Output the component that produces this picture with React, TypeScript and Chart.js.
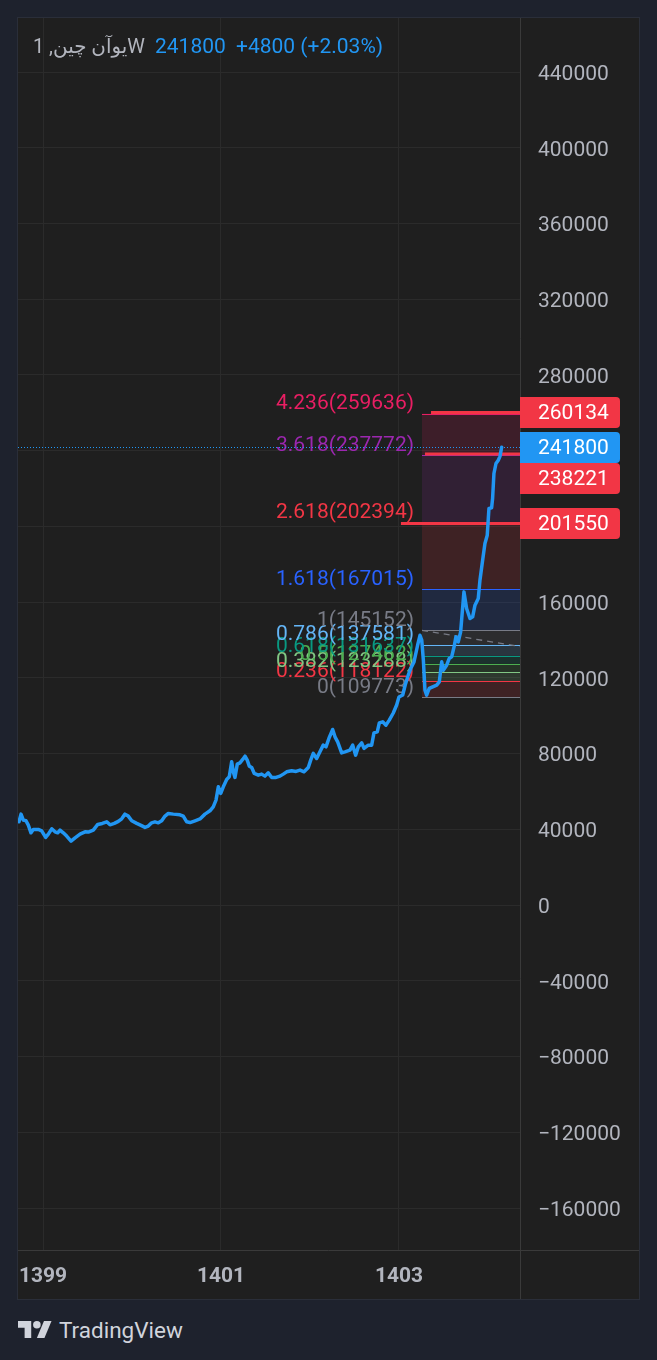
import React, { useEffect, useRef } from "react";
import { Chart, registerables } from "chart.js";

Chart.register(...registerables);

// ---- data (weekly closes, Persian calendar years as decimal x) ----
const years: number[] = [
  1398.730, 1398.753, 1398.779, 1398.809, 1398.835, 1398.865, 1398.891, 1398.947, 1398.985, 1399.030,
  1399.060, 1399.098, 1399.135, 1399.165, 1399.191, 1399.228, 1399.266, 1399.315, 1399.360, 1399.416,
  1399.472, 1399.509, 1399.565, 1399.615, 1399.666, 1399.716, 1399.753, 1399.801, 1399.846, 1399.884,
  1399.921, 1399.958, 1399.997, 1400.053, 1400.101, 1400.146, 1400.183, 1400.221, 1400.258, 1400.296,
  1400.334, 1400.371, 1400.408, 1400.464, 1400.539, 1400.576, 1400.615, 1400.652, 1400.708, 1400.764,
  1400.820, 1400.876, 1400.913, 1400.944, 1400.970, 1400.997, 1401.026, 1401.064, 1401.093, 1401.120,
  1401.138, 1401.157, 1401.183, 1401.213, 1401.244, 1401.270, 1401.295, 1401.318, 1401.345, 1401.374,
  1401.419, 1401.457, 1401.494, 1401.531, 1401.570, 1401.618, 1401.663, 1401.700, 1401.738, 1401.794,
  1401.843, 1401.888, 1401.933, 1401.981, 1402.008, 1402.037, 1402.075, 1402.112, 1402.149, 1402.180,
  1402.217, 1402.255, 1402.281, 1402.311, 1402.356, 1402.393, 1402.449, 1402.480, 1402.513, 1402.543,
  1402.581, 1402.607, 1402.655, 1402.693, 1402.719, 1402.756, 1402.779, 1402.817, 1402.854, 1402.891,
  1402.936, 1402.974, 1403.000, 1403.042, 1403.070, 1403.101, 1403.135, 1403.169, 1403.210, 1403.236,
  1403.256, 1403.274, 1403.292, 1403.311, 1403.340, 1403.379, 1403.424, 1403.453, 1403.480, 1403.498,
  1403.536, 1403.565, 1403.592, 1403.621, 1403.640, 1403.666, 1403.693, 1403.730, 1403.760, 1403.798,
  1403.828, 1403.854, 1403.891, 1403.910, 1403.940, 1403.966, 1403.992, 1404.011, 1404.041, 1404.052,
  1404.067, 1404.090, 1404.116, 1404.135, 1404.154,
];

const prices: number[] = [
  44000, 48050, 44880, 44520, 42240, 38180, 39970, 39970, 39230, 35750,
  37490, 40290, 38710, 38180, 39600, 38180, 36440, 33800, 35540, 37490,
  38710, 38550, 39600, 42610, 43140, 43990, 42400, 43140, 44200, 45570,
  48050, 47000, 44520, 43140, 42090, 41030, 41720, 43460, 43990, 43460,
  44520, 47000, 48420, 48050, 47680, 47000, 43990, 43600, 44520, 45500,
  48050, 49800, 51910, 55450, 62470, 58980, 62470, 66380, 67750, 75670,
  70390, 67430, 74460, 75140, 76940, 78680, 76570, 73400, 72710, 69540,
  68650, 69180, 68120, 69860, 67430, 67430, 68120, 69180, 70390, 70920,
  70600, 71290, 70390, 72710, 76570, 80110, 77470, 80950, 84490, 83590,
  88550, 92780, 88870, 86230, 80420, 80950, 81850, 84490, 79210, 83590,
  85700, 82750, 84490, 84490, 90980, 91510, 96260, 96790, 95050, 97690,
  101470, 105690, 109920, 110980, 116260, 121010, 125240, 128410, 137380, 142500,
  139930, 129370, 113530, 110890, 114430, 115270, 116170, 117910, 128480, 124090,
  126730, 130270, 131120, 136770, 141680, 139040, 144320, 165440, 156670, 151390,
  152240, 158420, 161950, 171620, 182180, 191000, 195380, 209480, 209790, 214760,
  227960, 233240, 234980, 237000, 241800,
];

const yTickValues: number[] = [
  -160000, -120000, -80000, -40000, 0, 40000, 80000, 120000, 160000,
  200000, 240000, 280000, 320000, 360000, 400000, 440000,
];
const yHiddenLabels: number[] = [200000, 240000];
const xTickYears: number[] = [1399, 1401, 1403];
const xMinYear = 1398.719;
const xMaxYear = 1404.36;
const yMin = -182170;
const yMax = 468550;

const fibRatios: number[] = [0, 0.236, 0.382, 0.5, 0.618, 0.786, 1, 1.618, 2.618, 3.618, 4.236];
const fibValues: number[] = [109773, 118122, 123288, 127462, 131637, 137581, 145152, 167015, 202394, 237772, 259636];
const fibColors: string[] = [
  "#787b86", "#f23645", "#81c784", "#4caf50", "#089981", "#64b5f6",
  "#787b86", "#2962ff", "#f23645", "#9c27b0", "#e91e63",
];
const fibStartYear = 1403.258;
const fibEndYear = 1407.8;

const hLineValues: number[] = [260134, 238221, 201550];
const hLineStartYears: number[] = [1403.36, 1403.292, 1403.022];

const symbolTitle = "یوآن چین, 1W";
const lastPrice = 241800;
const priceChange = 4800;
const priceChangePct = 2.03;

const FONT = "Roboto, 'DejaVu Sans', sans-serif";
const BLUE = "#2196f3";
const RED = "#f23645";
const TEXT = "#b2b5be";

function hexA(hex: string, a: number): string {
  const n = parseInt(hex.slice(1), 16);
  return `rgba(${(n >> 16) & 255},${(n >> 8) & 255},${n & 255},${a})`;
}

function fmtPrice(v: number): string {
  return v < 0 ? "\u2212" + Math.abs(v) : String(v);
}

const overlayPlugin = {
  id: "overlay",
  beforeDatasetsDraw(chart: any) {
    const { ctx, chartArea: a } = chart;
    const x = chart.scales.x;
    const y = chart.scales.y;
    ctx.save();
    ctx.beginPath();
    ctx.rect(a.left, a.top, a.right - a.left, a.bottom - a.top);
    ctx.clip();

    const fx0 = Math.round(x.getPixelForValue(fibStartYear));
    const fx1 = Math.min(x.getPixelForValue(fibEndYear), a.right);

    // fib fills
    for (let i = 0; i < fibValues.length - 1; i++) {
      const y0 = y.getPixelForValue(fibValues[i]);
      const y1 = y.getPixelForValue(fibValues[i + 1]);
      ctx.fillStyle = hexA(fibColors[i + 1], 0.15);
      ctx.fillRect(fx0, y1, fx1 - fx0, y0 - y1);
    }
    // fib lines
    ctx.lineWidth = 1;
    for (let i = 0; i < fibValues.length; i++) {
      const yy = Math.round(y.getPixelForValue(fibValues[i])) + 0.5;
      ctx.strokeStyle = fibColors[i];
      ctx.beginPath();
      ctx.moveTo(fx0, yy);
      ctx.lineTo(fx1, yy);
      ctx.stroke();
    }
    // trend line (dashed)
    ctx.save();
    ctx.setLineDash([6, 5]);
    ctx.strokeStyle = "#787b86";
    ctx.lineWidth = 1.3;
    ctx.beginPath();
    ctx.moveTo(fx0, y.getPixelForValue(fibValues[6]));
    ctx.lineTo(x.getPixelForValue(fibEndYear), y.getPixelForValue(fibValues[0]));
    ctx.stroke();
    ctx.restore();

    // fib labels
    ctx.font = `21px ${FONT}`;
    ctx.textAlign = "right";
    ctx.textBaseline = "bottom";
    for (let i = 0; i < fibValues.length; i++) {
      const yy = y.getPixelForValue(fibValues[i]);
      ctx.fillStyle = fibColors[i];
      ctx.fillText(`${fibRatios[i]}(${fibValues[i]})`, fx0 - 8, yy + 1);
    }

    // last price dotted line
    const py = Math.round(y.getPixelForValue(lastPrice)) + 0.5;
    ctx.save();
    ctx.setLineDash([1, 2]);
    ctx.strokeStyle = BLUE;
    ctx.lineWidth = 1;
    ctx.beginPath();
    ctx.moveTo(a.left, py);
    ctx.lineTo(a.right, py);
    ctx.stroke();
    ctx.restore();

    // red horizontal rays
    ctx.strokeStyle = RED;
    ctx.lineWidth = 3;
    for (let i = 0; i < hLineValues.length; i++) {
      const yy = y.getPixelForValue(hLineValues[i]);
      ctx.beginPath();
      ctx.moveTo(x.getPixelForValue(hLineStartYears[i]), yy);
      ctx.lineTo(a.right, yy);
      ctx.stroke();
    }
    ctx.restore();
  },
  afterDraw(chart: any) {
    const { ctx, chartArea: a, width, height } = chart;
    const y = chart.scales.y;
    ctx.save();
    // separators
    ctx.strokeStyle = "#3a3a3a";
    ctx.lineWidth = 1;
    ctx.beginPath();
    ctx.moveTo(Math.round(a.right) + 0.5, 0);
    ctx.lineTo(Math.round(a.right) + 0.5, height);
    ctx.moveTo(0, Math.round(a.bottom) + 0.5);
    ctx.lineTo(width, Math.round(a.bottom) + 0.5);
    ctx.stroke();

    // price label boxes
    const H = 31;
    const items = [
      { v: lastPrice, color: BLUE },
      ...hLineValues.map((v) => ({ v, color: RED })),
    ];
    const placed: { v: number; color: string; cy: number }[] = [];
    for (const it of items) {
      let cy = y.getPixelForValue(it.v);
      for (const p of placed) {
        if (Math.abs(cy - p.cy) < H) cy = cy >= p.cy ? p.cy + H : p.cy - H;
      }
      placed.push({ v: it.v, color: it.color, cy });
    }
    ctx.font = `21px ${FONT}`;
    ctx.textAlign = "left";
    ctx.textBaseline = "middle";
    for (const p of placed) {
      const bx = Math.round(a.right);
      const by = Math.round(p.cy - H / 2);
      ctx.fillStyle = p.color;
      ctx.beginPath();
      if ((ctx as any).roundRect) (ctx as any).roundRect(bx, by, 100, H, [0, 4, 4, 0]);
      else ctx.rect(bx, by, 100, H);
      ctx.fill();
      ctx.fillStyle = "#ffffff";
      ctx.fillText(String(p.v), bx + 18, by + H / 2 + 1);
    }

    // header
    ctx.textBaseline = "middle";
    ctx.direction = "ltr";
    const hy = 30;
    ctx.font = `21px ${FONT}`;
    const w21 = ctx.measureText(symbolTitle).width;
    const titleSize = Math.min(21, (21 * 112) / w21);
    ctx.font = `${titleSize.toFixed(2)}px ${FONT}`;
    ctx.fillStyle = TEXT;
    ctx.fillText(symbolTitle, 15, hy);
    ctx.font = `21px ${FONT}`;
    ctx.fillStyle = BLUE;
    ctx.fillText(String(lastPrice), 137, hy);
    ctx.fillText(`+${priceChange} (+${priceChangePct.toFixed(2)}%)`, 218, hy);
    ctx.restore();
  },
};

export default function App() {
  const ref = useRef<HTMLCanvasElement | null>(null);

  useEffect(() => {
    document.body.style.margin = "0";
    document.body.style.background = "#1e222d";
    const canvas = ref.current;
    if (!canvas) return;
    const chart = new Chart(canvas, {
      type: "line",
      data: {
        datasets: [
          {
            data: years.map((yr, i) => ({ x: yr, y: prices[i] })),
            borderColor: BLUE,
            borderWidth: 3.5,
            pointRadius: 0,
            tension: 0,
            borderJoinStyle: "round",
            borderCapStyle: "round",
            fill: false,
          },
        ],
      },
      options: {
        animation: false,
        responsive: false,
        maintainAspectRatio: false,
        devicePixelRatio: 1,
        layout: { padding: 0 },
        plugins: { legend: { display: false }, tooltip: { enabled: false }, title: { display: false } },
        scales: {
          x: {
            type: "linear",
            min: xMinYear,
            max: xMaxYear,
            position: "bottom",
            afterBuildTicks: (s: any) => {
              s.ticks = xTickYears.map((v) => ({ value: v }));
            },
            afterFit: (s: any) => {
              s.height = 49;
              s.paddingLeft = 0;
              s.paddingRight = 0;
            },
            grid: { color: "#2b2b2b", drawTicks: false, lineWidth: 1 },
            border: { display: false },
            ticks: {
              autoSkip: false,
              maxRotation: 0,
              padding: 14,
              color: TEXT,
              font: { family: FONT, size: 21, weight: "bold" },
              callback: (v: any) => String(v),
            },
          },
          y: {
            type: "linear",
            position: "right",
            min: yMin,
            max: yMax,
            afterBuildTicks: (s: any) => {
              s.ticks = yTickValues.map((v) => ({ value: v }));
            },
            afterFit: (s: any) => {
              s.width = 119;
              s.paddingTop = 0;
              s.paddingBottom = 0;
            },
            grid: { color: "#2b2b2b", drawTicks: false, lineWidth: 1 },
            border: { display: false },
            ticks: {
              autoSkip: false,
              padding: 18,
              labelOffset: 2.5,
              color: TEXT,
              font: { family: FONT, size: 21 },
              callback: (v: any) => (yHiddenLabels.includes(v) ? "" : fmtPrice(v)),
            },
          },
        },
      } as any,
      plugins: [overlayPlugin],
    });
    return () => chart.destroy();
  }, []);

  return (
    <div
      style={{
        position: "fixed",
        left: 0,
        top: 0,
        width: 657,
        height: 1360,
        background: "#1e222d",
        overflow: "hidden",
        fontFamily: FONT,
      }}
    >
      <div
        style={{
          position: "absolute",
          left: 17,
          top: 17,
          width: 621,
          height: 1281,
          border: "1px solid #2a2e39",
          background: "#1f1f1f",
        }}
      >
        <canvas ref={ref} width={621} height={1281} style={{ display: "block", width: 621, height: 1281 }} />
      </div>
      <div
        style={{
          position: "absolute",
          left: 18,
          top: 1316,
          height: 28,
          display: "flex",
          alignItems: "center",
          gap: 7,
          color: "#d1d4dc",
          fontSize: 22.5,
        }}
      >
        <svg width={34} height={27} viewBox="0 0 36 28" fill="#d1d4dc">
          <path d="M14 22H7V11H0V4h14v18z" />
          <circle cx="20" cy="8" r="4" />
          <path d="M28 22h-8l7.5-18h8L28 22z" />
        </svg>
        <span>TradingView</span>
      </div>
    </div>
  );
}
